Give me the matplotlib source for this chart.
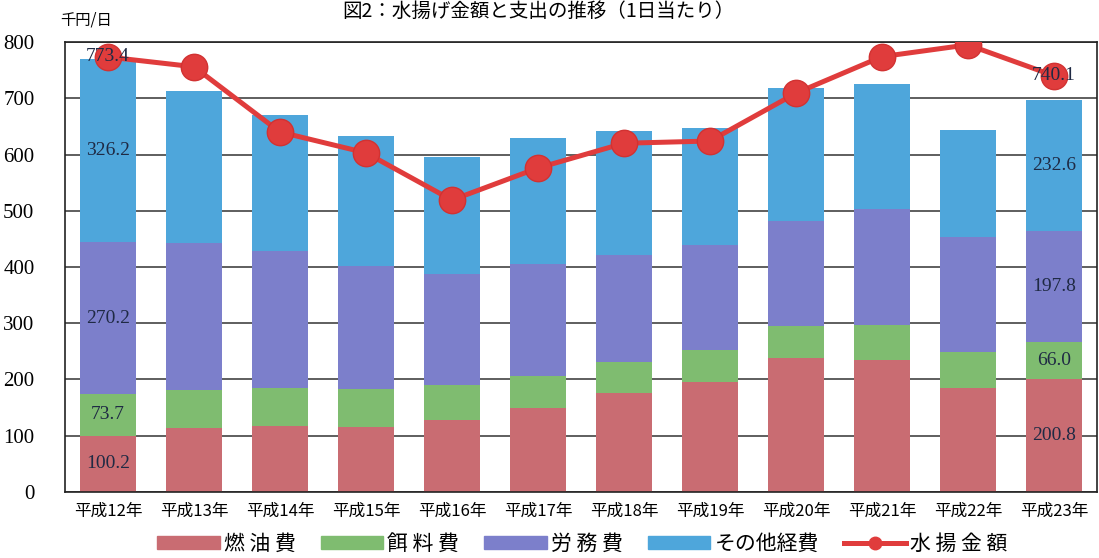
import numpy as np
import matplotlib.pyplot as plt
from matplotlib.lines import Line2D
from matplotlib.patches import Patch

plt.rcParams['font.family'] = ['Noto Sans CJK JP', 'DejaVu Sans']

# values (千円/日)
years = ['平成12年', '平成13年', '平成14年', '平成15年', '平成16年', '平成17年',
         '平成18年', '平成19年', '平成20年', '平成21年', '平成22年', '平成23年']
fuel = [100.2, 114, 117, 116, 128, 149, 176, 196, 238, 235, 184, 200.8]
feed = [73.7, 67, 68, 67, 62, 57, 55, 56, 57, 62, 65, 66.0]
labor = [270.2, 262, 244, 219, 197, 199, 190, 187, 187, 206, 205, 197.8]
other = [326.2, 270, 241, 231, 208, 224, 221, 208, 237, 222, 190, 232.6]
landing = [773.4, 756, 640, 603, 519, 576, 620, 624, 709, 774, 795, 740.1]

colors = {'fuel': '#C96C72', 'feed': '#7FBC70', 'labor': '#7C7FCB',
          'other': '#4EA6DB', 'line': '#E03C3C'}

fig = plt.figure(figsize=(10.99, 5.58), dpi=100)
ax = fig.add_axes([0.0591, 0.1183, 0.939, 0.8064])

x = np.arange(len(years))
width = 0.66
fuel = np.array(fuel)
feed = np.array(feed)
labor = np.array(labor)
other = np.array(other)

ax.bar(x, fuel, width, color=colors['fuel'], zorder=2)
ax.bar(x, feed, width, bottom=fuel, color=colors['feed'], zorder=2)
ax.bar(x, labor, width, bottom=fuel + feed, color=colors['labor'], zorder=2)
ax.bar(x, other, width, bottom=fuel + feed + labor, color=colors['other'], zorder=2)
ax.plot(x, landing, color=colors['line'], lw=3.6, marker='o', ms=19,
        markerfacecolor=colors['line'], markeredgecolor='#D23232', zorder=3)

# data labels on first and last year
serif = ['Liberation Serif', 'DejaVu Serif']
for i in [0, len(years) - 1]:
    stacks = [fuel[i], feed[i], labor[i], other[i]]
    base = 0
    for v in stacks:
        ax.text(x[i], base + v / 2, f'{v:.1f}', ha='center', va='center',
                fontsize=14, family=serif, color='#1F2A44', zorder=4)
        base += v
    ax.text(x[i], landing[i], f'{landing[i]:.1f}', ha='center', va='center',
            fontsize=14, family=serif, color='#1F2A44', zorder=4)

ax.set_xlim(-0.5, len(years) - 0.5)
ax.set_ylim(0, 800)
ax.set_yticks(range(0, 801, 100))
ax.set_yticklabels([str(v) for v in range(0, 801, 100)], family=serif, fontsize=15)
ax.set_xticks(x)
ax.set_xticklabels(years, fontsize=12)
ax.tick_params(axis='both', length=0, pad=8)
ax.tick_params(axis='y', pad=22)
ax.yaxis.grid(True, color='#333333', lw=1.1, zorder=0)
ax.set_axisbelow(True)
for s in ax.spines.values():
    s.set_color('#222222')
    s.set_linewidth(1.2)

fig.text(0.055, 0.965, '千円/日', fontsize=11, ha='left', va='center')
fig.text(0.49, 0.998, '図2：水揚げ金額と支出の推移（1日当たり）', fontsize=14,
         ha='center', va='top')

handles = [Patch(color=colors['fuel']), Patch(color=colors['feed']),
           Patch(color=colors['labor']), Patch(color=colors['other']),
           Line2D([], [], color=colors['line'], lw=3.6, marker='o', ms=9)]
labels = ['燃 油 費', '餌 料 費', '労 務 費', 'その他経費', '水 揚 金 額']
fig.legend(handles, labels, loc='center', bbox_to_anchor=(0.53, 0.025), ncol=5,
           frameon=False, fontsize=15, handlelength=3.0, handleheight=0.6,
           handletextpad=0.2, columnspacing=1.2)

fig.savefig('out.png', dpi=100)
